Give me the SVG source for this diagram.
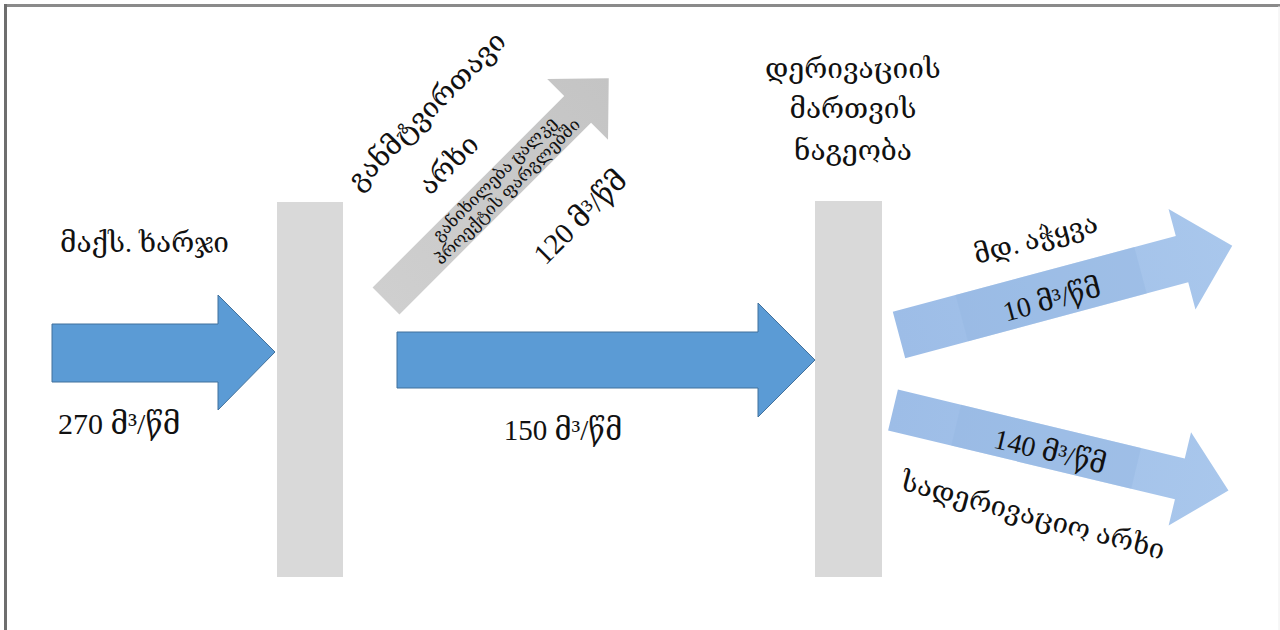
<svg xmlns="http://www.w3.org/2000/svg" width="1280" height="630" viewBox="0 0 1280 630">
<defs>
<style>
.t{font-family:"Liberation Serif","DejaVu Serif","DejaVu Sans",serif;fill:#111;}
.k{font-size:1em;}
.bar{fill:#d9d9d9;}
.dark{fill:#5b9bd5;stroke:#41719c;stroke-width:1;}
.light{fill:url(#lg);}
.band{fill:#94b6e2;opacity:0.4;}
</style>
<linearGradient id="lg" x1="0" y1="0" x2="1" y2="0">
<stop offset="0" stop-color="#9dbde7"/>
<stop offset="1" stop-color="#a9c7ec"/>
</linearGradient>
<linearGradient id="gg" x1="0" y1="0" x2="1" y2="0">
<stop offset="0" stop-color="#cfcfcf"/>
<stop offset="1" stop-color="#c4c4c4"/>
</linearGradient>
</defs>
<rect x="0" y="0" width="1280" height="630" fill="#fff"/>
<line x1="5" y1="5.5" x2="1280" y2="5.5" stroke="#8a8a8a" stroke-width="3"/>
<line x1="5.5" y1="4" x2="5.5" y2="630" stroke="#6e6e6e" stroke-width="3"/>
<line x1="1279" y1="6" x2="1279" y2="630" stroke="#eeeeee" stroke-width="1"/>

<g id="barrier1"><rect class="bar" x="277" y="202" width="66" height="375"/></g>
<g id="barrier2"><rect class="bar" x="815" y="201" width="67" height="376"/></g>

<g id="connectors">
<polygon id="arrow-in" class="dark" points="52,324 218,324 218,295 275,352 218,410 218,382 52,382"/>
<polygon id="arrow-mid" class="dark" points="397,332 758,332 758,303 815,360 758,417 758,388 397,388"/>
<g id="arrow-bypass" transform="translate(386,301) rotate(-45)">
<polygon fill="url(#gg)" points="0,-19 271,-19 271,-43 315,0 271,43 271,19 0,19"/>
</g>
<g id="arrow-river" transform="translate(899,335) rotate(-15)">
<polygon class="light" points="0,-24 293,-24 293,-52 345,0 293,52 293,24 0,24"/>
<rect class="band" x="65" y="-24" width="185" height="48"/>
</g>
<g id="arrow-canal" transform="translate(893,410) rotate(13.5)">
<polygon class="light" points="0,-21 295,-21 295,-48 345,0 295,48 295,21 0,21"/>
<rect class="band" x="65" y="-21" width="185" height="42"/>
</g>
</g>

<g id="labels">
<text class="t" x="60" y="252" font-size="28">მაქს. ხარჯი</text>
<text class="t" x="58" y="434" font-size="30">270 <tspan class="k">მ</tspan>³<tspan class="k">/წმ</tspan></text>
<text class="t" x="563" y="440" font-size="29" text-anchor="middle">150 <tspan class="k">მ</tspan>³<tspan class="k">/წმ</tspan></text>
<g text-anchor="middle">
<text class="t" x="853" y="78" font-size="28">დერივაციის</text>
<text class="t" x="853" y="118" font-size="28">მართვის</text>
<text class="t" x="853" y="160" font-size="28">ნაგეობა</text>
</g>
<text class="t" font-size="28" text-anchor="middle" transform="translate(427,111) rotate(-45)" y="9">განმტვირთავი</text>
<text class="t" font-size="28" text-anchor="middle" transform="translate(449,165) rotate(-45)" y="9">არხი</text>
<g transform="translate(386,301) rotate(-45)">
<text class="t" font-size="17" text-anchor="middle" x="163" y="-4">განიხილება ცალკე</text>
<text class="t" font-size="17" text-anchor="middle" x="163" y="14">პროექტის ფარგლებში</text>
</g>
<text class="t" font-size="29" text-anchor="middle" transform="translate(580,217) rotate(-45)" y="10">120 <tspan class="k">მ</tspan>³<tspan class="k">/წმ</tspan></text>
<text class="t" font-size="27" text-anchor="middle" transform="translate(1036,240) rotate(-15)" y="8">მდ. აჭყვა</text>
<text class="t" font-size="28" text-anchor="middle" transform="translate(1052,300) rotate(-15)" y="9">10 <tspan class="k">მ</tspan>³<tspan class="k">/წმ</tspan></text>
<text class="t" font-size="28" text-anchor="middle" transform="translate(1050,452) rotate(13.5)" y="9">140 <tspan class="k">მ</tspan>³<tspan class="k">/წმ</tspan></text>
<text class="t" font-size="27.5" text-anchor="middle" transform="translate(1033,516) rotate(15)" y="9">სადერივაციო არხი</text>
</g>
</svg>
